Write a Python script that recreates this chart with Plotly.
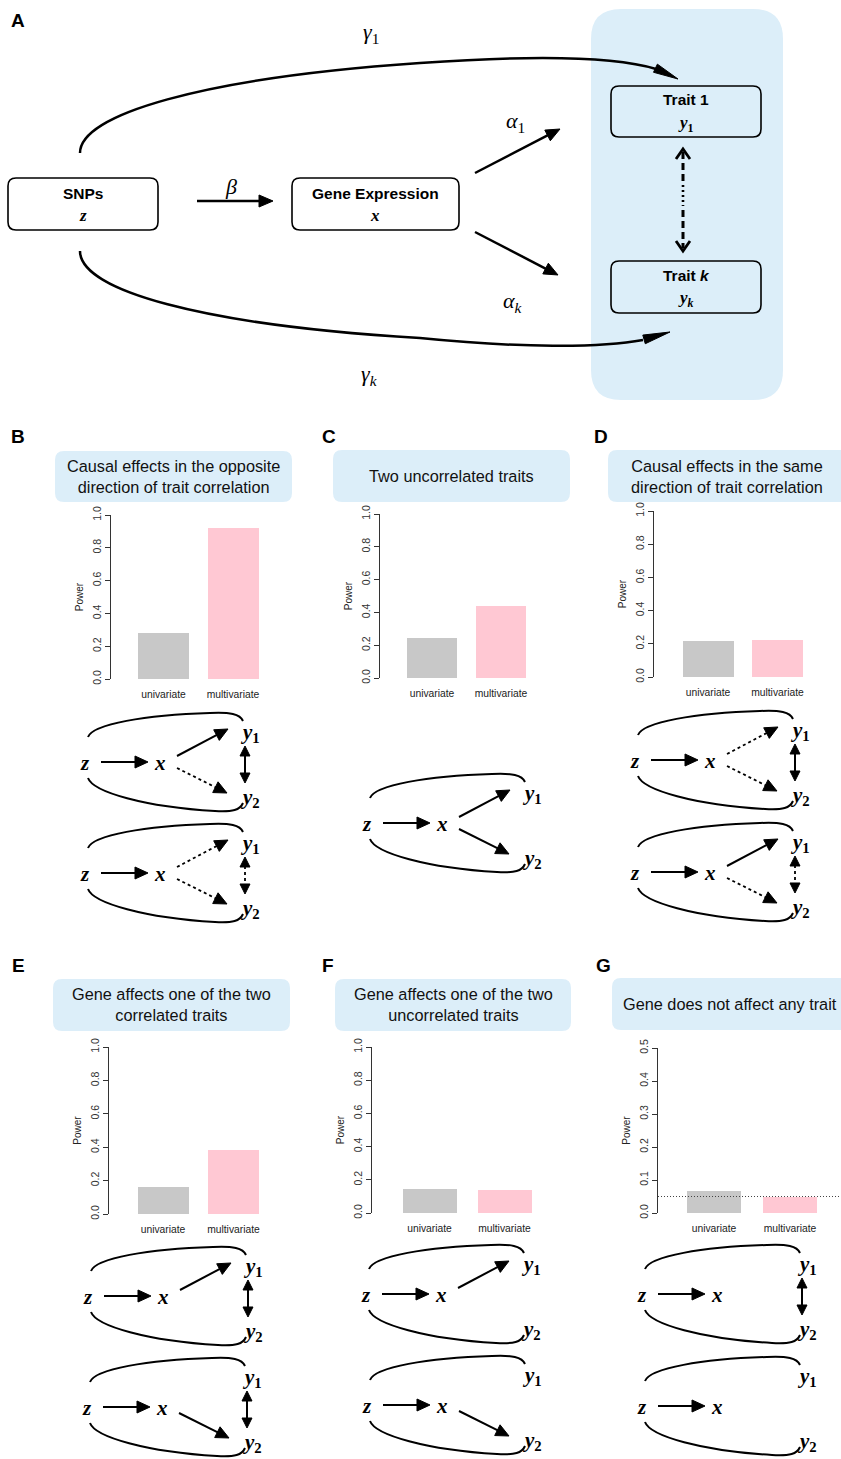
import math
import plotly.graph_objects as go

W, H = 841, 1459

# ---------------- data ----------------
panel_ids = ['B', 'C', 'D', 'E', 'F', 'G']
categories = ['univariate', 'multivariate']
univariate_power = [0.283, 0.242, 0.216, 0.160, 0.146, 0.066]
multivariate_power = [0.918, 0.440, 0.222, 0.383, 0.140, 0.050]
power_axis_max = [1.0, 1.0, 1.0, 1.0, 1.0, 0.5]
power_ticks_full = [0.0, 0.2, 0.4, 0.6, 0.8, 1.0]
power_ticks_half = [0.0, 0.1, 0.2, 0.3, 0.4, 0.5]
null_level = 0.05
panel_titles = [
    'Causal effects in the opposite<br>direction of trait correlation',
    'Two uncorrelated traits',
    'Causal effects in the same<br>direction of trait correlation',
    'Gene affects one of the two<br>correlated traits',
    'Gene affects one of the two<br>uncorrelated traits',
    'Gene does not affect any trait',
]
bar_colors = ['#C8C8C8', '#FFC8D3']

# ---------------- layout geometry (pixels) ----------------
geom = {
    'B': dict(axis=111, uni=163.5, multi=233, bw=51, top=515, bottom=679, right=275),
    'C': dict(axis=380, uni=432, multi=501, bw=50, top=514, bottom=678, right=545),
    'D': dict(axis=654, uni=708, multi=777.5, bw=51, top=511, bottom=677, right=820),
    'E': dict(axis=109, uni=163, multi=233.5, bw=51, top=1047, bottom=1214, right=275),
    'F': dict(axis=372, uni=429.5, multi=504.5, bw=54, top=1047, bottom=1213, right=545),
    'G': dict(axis=658, uni=714, multi=790, bw=54, top=1048, bottom=1213, right=841),
}
title_boxes = {
    'B': (55, 451, 292, 502), 'C': (333, 450, 570, 502), 'D': (608, 450, 850, 502),
    'E': (53, 979, 290, 1031), 'F': (335, 979, 571, 1031), 'G': (612, 978, 850, 1030),
}
letters = {'A': (18, 20), 'B': (18, 436), 'C': (329, 436), 'D': (601, 436),
           'E': (18, 966), 'F': (328, 965), 'G': (603, 965)}


def X(p):
    return p / W


def Y(p):
    return 1 - p / H


def P(x, y):
    return f"{X(x):.6f},{Y(y):.6f}"


shapes = []
annotations = []
BLUE = '#DCEEF9'


def path_shape(d, fill=None, color='black', width=2, dash='solid'):
    s = dict(type='path', path=d, xref='paper', yref='paper', layer='above',
             line=dict(color=color, width=width, dash=dash))
    if fill:
        s['fillcolor'] = fill
    shapes.append(s)


def line(x0, y0, x1, y1, width=2, dash='solid', color='black'):
    shapes.append(dict(type='line', xref='paper', yref='paper', layer='above',
                       x0=X(x0), y0=Y(y0), x1=X(x1), y1=Y(y1),
                       line=dict(color=color, width=width, dash=dash)))


def head(xt, yt, dx, dy, L, Wd):
    n = math.hypot(dx, dy)
    ux, uy = dx / n, dy / n
    nx, ny = -uy, ux
    bx, by = xt - L * ux, yt - L * uy
    p1 = (bx + nx * Wd / 2, by + ny * Wd / 2)
    p2 = (bx - nx * Wd / 2, by - ny * Wd / 2)
    path_shape(f"M {P(xt, yt)} L {P(*p1)} L {P(*p2)} Z", fill='black', width=1)
    return bx, by, ux, uy


def arrow(x0, y0, x1, y1, width=2, dash='solid', L=12, Wd=10):
    bx, by, ux, uy = head(x1, y1, x1 - x0, y1 - y0, L, Wd)
    line(x0, y0, bx + ux * 1, by + uy * 1, width=width, dash=dash)


def rrect(x0, y0, x1, y1, r, fill=None, color='black', width=1.5):
    d = (f"M {P(x0 + r, y0)} L {P(x1 - r, y0)} Q {P(x1, y0)} {P(x1, y0 + r)} "
         f"L {P(x1, y1 - r)} Q {P(x1, y1)} {P(x1 - r, y1)} L {P(x0 + r, y1)} "
         f"Q {P(x0, y1)} {P(x0, y1 - r)} L {P(x0, y0 + r)} Q {P(x0, y0)} {P(x0 + r, y0)} Z")
    path_shape(d, fill=fill, color=color, width=width)


def text(x, y, s, size, family='Liberation Sans', color='black', xanchor='center'):
    annotations.append(dict(x=X(x), y=Y(y), xref='paper', yref='paper', text=s,
                            showarrow=False, xanchor=xanchor, yanchor='middle',
                            font=dict(size=size, family=family, color=color)))


SERIF = 'Liberation Serif'

# ---------------- Panel A ----------------
rrect(591, 9, 783, 400, 30, fill=BLUE, color=BLUE, width=0)
rrect(8, 178, 158, 230, 8, fill='white', width=1.6)
rrect(292, 178, 459, 230, 8, fill='white', width=1.6)
rrect(611, 86, 761, 137, 8, fill=BLUE, width=1.6)
rrect(611, 261, 761, 313, 8, fill=BLUE, width=1.6)

text(83, 194, '<b>SNPs</b>', 15.5)
text(83, 215, '<b><i>z</i></b>', 17, SERIF)
text(375, 194, '<b>Gene Expression</b>', 15.5)
text(375, 215, '<b><i>x</i></b>', 17, SERIF)
text(686, 100, '<b>Trait 1</b>', 15.5)
text(686, 124, '<b><i>y</i><sub>1</sub></b>', 17, SERIF)
text(686, 276, '<b>Trait <i>k</i></b>', 15.5)
text(686, 299, '<b><i>y</i><sub><i>k</i></sub></b>', 17, SERIF)

arrow(197, 201, 273, 201, width=2.5, L=14, Wd=12)
text(231, 186, '<i>β</i>', 22, SERIF)
arrow(475, 173, 560, 129, width=2.5, L=14, Wd=12)
text(515, 122, '<i>α</i><sub>1</sub>', 22, SERIF)
arrow(475, 232, 558, 275, width=2.5, L=14, Wd=12)
text(513, 302, '<i>α</i><sub><i>k</i></sub>', 22, SERIF)

# gamma curves
path_shape(f"M {P(80, 153)} C {P(80, 115)} {P(200, 78)} {P(420, 63)} "
           f"C {P(520, 56)} {P(610, 55)} {P(656, 69)}", width=2.5)
head(678, 79, 23, 11, 25, 9)
text(371, 33, '<i>γ</i><sub>1</sub>', 22, SERIF)
path_shape(f"M {P(80, 251)} C {P(80, 290)} {P(200, 325)} {P(420, 338)} "
           f"C {P(520, 348)} {P(600, 348)} {P(643, 340)}", width=2.5)
head(670, 332, 28, -8, 27, 9)
text(369, 375, '<i>γ</i><sub><i>k</i></sub>', 22, SERIF)

# dashed correlation arrow between traits
path_shape(f"M {P(676, 159)} L {P(683, 149)} L {P(690, 159)}", width=2.8)
path_shape(f"M {P(676, 241)} L {P(683, 251)} L {P(690, 241)}", width=2.8)
line(683, 152, 683, 182, width=3, dash='7px,4px')
line(683, 185, 683, 206, width=2.6, dash='2px,3px')
line(683, 210, 683, 248, width=3, dash='7px,4px')

# ---------------- small diagrams ----------------
diagrams = [
    (85, 762, 'solid', 'dot', 'solid'),
    (85, 873, 'dot', 'dot', 'dot'),
    (367, 823, 'solid', 'solid', None),
    (635, 760, 'dot', 'dot', 'solid'),
    (635, 872, 'solid', 'dot', 'dot'),
    (88, 1296, 'solid', None, 'solid'),
    (87, 1407, None, 'solid', 'solid'),
    (366, 1294, 'solid', None, None),
    (367, 1405, None, 'solid', None),
    (642, 1294, None, None, 'solid'),
    (642, 1406, None, None, None),
]


def diagram(ox, oy, a1, a2, corr):
    def q(dx, dy):
        return P(ox + dx, oy + dy)
    path_shape(f"M {q(3, -25)} C {q(8, -38)} {q(60, -47)} {q(125, -49)} "
               f"C {q(145, -50)} {q(155, -48)} {q(158, -41)}", width=2)
    path_shape(f"M {q(3, 16)} C {q(8, 30)} {q(60, 45)} {q(130, 49)} "
               f"C {q(148, 50)} {q(155, 48)} {q(158, 41)}", width=2)
    text(ox, oy + 1, '<b><i>z</i></b>', 21, SERIF)
    text(ox + 75, oy + 1, '<b><i>x</i></b>', 21, SERIF)
    text(ox + 165, oy - 29, '<b><i>y</i><sub>1</sub></b>', 21, SERIF)
    text(ox + 165, oy + 36, '<b><i>y</i><sub>2</sub></b>', 21, SERIF)
    arrow(ox + 16, oy, ox + 63, oy, width=2, L=13, Wd=12)
    if a1:
        arrow(ox + 92, oy - 6, ox + 143, oy - 33, width=2 if a1 == 'solid' else 1.8,
              dash=a1, L=13, Wd=12)
    if a2:
        arrow(ox + 92, oy + 6, ox + 142, oy + 31, width=2 if a2 == 'solid' else 1.8,
              dash=a2, L=13, Wd=12)
    if corr:
        cx = ox + 160
        head(cx, oy - 16, 0, -1, 10, 10)
        head(cx, oy + 21, 0, 1, 10, 10)
        line(cx, oy - 7, cx, oy + 12, width=2 if corr == 'solid' else 1.8, dash=corr)


for d in diagrams:
    diagram(*d)

# ---------------- title boxes and letters ----------------
for i, pid in enumerate(panel_ids):
    x0, y0, x1, y1 = title_boxes[pid]
    rrect(x0, y0, x1, y1, 9, fill=BLUE, color=BLUE, width=0)
    cx = (x0 + min(x1, 845)) / 2
    if pid == 'G':
        cx = 730
    text(cx, (y0 + y1) / 2, panel_titles[i], 16.3, 'Liberation Sans', '#111')
for k, (lx, ly) in letters.items():
    text(lx, ly, f'<b>{k}</b>', 19)

# ---------------- bar charts ----------------
fig = go.Figure()
layout_axes = {}
for i, pid in enumerate(panel_ids):
    g = geom[pid]
    n = '' if i == 0 else str(i + 1)
    c = g['multi'] - g['uni']
    fig.add_trace(go.Bar(
        x=categories, y=[univariate_power[i], multivariate_power[i]],
        width=g['bw'] / c, marker=dict(color=bar_colors, line=dict(width=0)),
        xaxis='x' + n, yaxis='y' + n, showlegend=False, hoverinfo='skip'))
    ticks = power_ticks_full if power_axis_max[i] == 1.0 else power_ticks_half
    layout_axes['xaxis' + n] = dict(
        domain=[X(g['axis']), X(g['right'])],
        range=[(g['axis'] - g['uni']) / c, (g['right'] - g['uni']) / c],
        anchor='y' + n, type='category', categoryorder='array', categoryarray=categories,
        showline=False, showgrid=False, zeroline=False, ticks='', automargin=False,
        ticklabelstandoff=8, tickfont=dict(size=10.3, family='Liberation Sans', color='#222'),
        fixedrange=True)
    layout_axes['yaxis' + n] = dict(
        domain=[Y(g['bottom']), Y(g['top'])], range=[0, power_axis_max[i]],
        anchor='x' + n, showline=True, linecolor='#333', linewidth=1, automargin=False,
        ticks='outside', ticklen=5, tickcolor='#333', tickwidth=1,
        tickvals=ticks, tickformat='.1f', tickangle=-90,
        tickfont=dict(size=10.5, family='Liberation Sans', color='#333'),
        showgrid=False, zeroline=False, fixedrange=True,
        title=dict(text='Power', standoff=5,
                   font=dict(size=10, family='Liberation Sans', color='#222')))

# null level line in G
shapes.append(dict(type='line', xref='x6 domain', yref='y6', x0=0, x1=1,
                   y0=null_level, y1=null_level, layer='above',
                   line=dict(color='#444', width=1, dash='1px,2px')))

fig.update_layout(
    width=W, height=H, autosize=False,
    margin=dict(l=0, r=0, t=0, b=0, pad=0, autoexpand=False),
    paper_bgcolor='white', plot_bgcolor='rgba(0,0,0,0)',
    bargap=0, shapes=shapes, annotations=annotations,
    **layout_axes)

fig.write_html("out.html", config={'displayModeBar': False},
               post_script="document.body.style.margin='0px';")
